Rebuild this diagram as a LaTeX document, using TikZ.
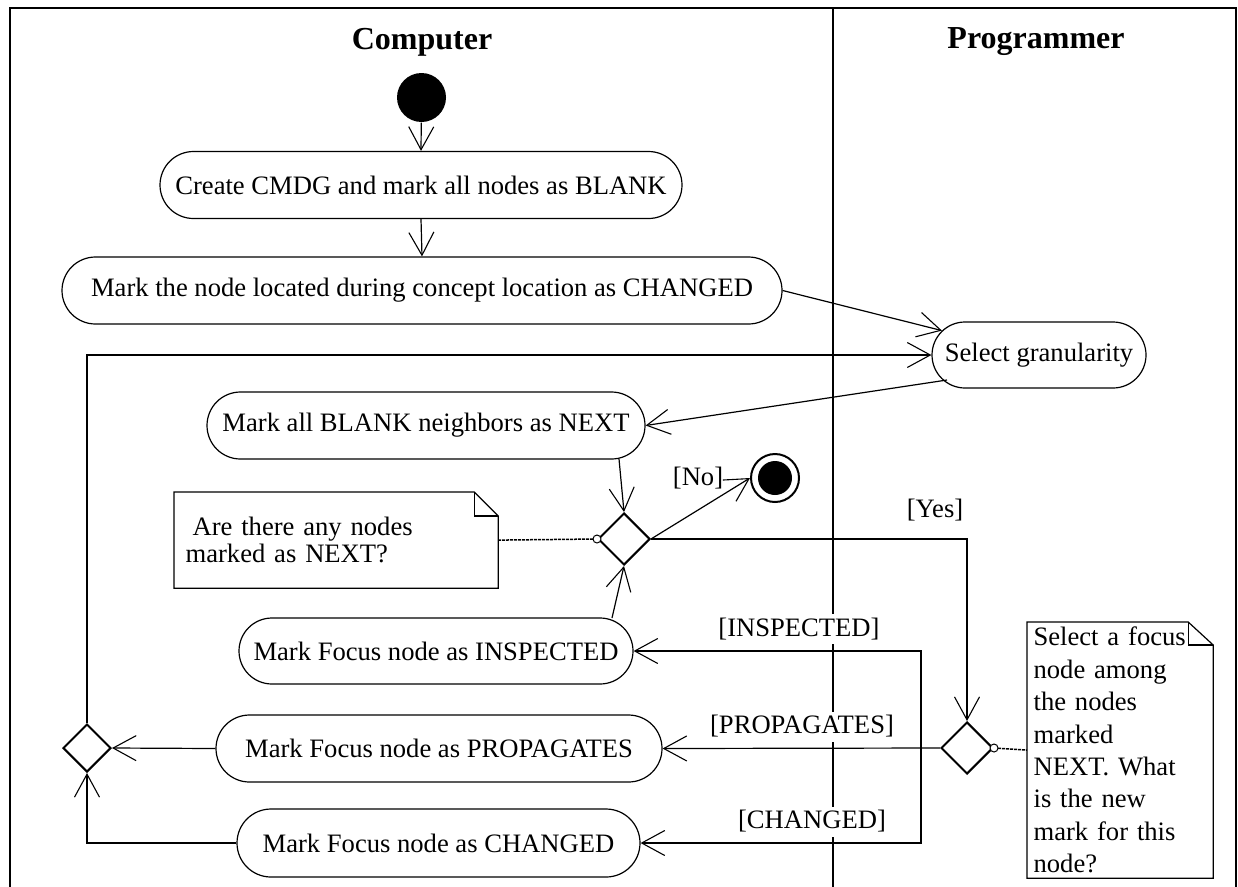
\documentclass[tikz,border=0pt]{standalone}
\usepackage{fontspec}
\setmainfont{Liberation Serif}
\usetikzlibrary{arrows.meta,shapes.misc,shapes.geometric,calc}
\newcommand{\fsz}{\fontsize{26.6pt}{32pt}\selectfont}
\begin{document}
\begin{tikzpicture}[x=1pt,y=-1pt,line width=1.2pt,
  act/.style={rounded rectangle, draw, line width=1.2pt, minimum height=67pt, inner sep=0pt, font=\fsz},
  dec/.style={diamond, draw, line width=2pt, minimum width=52pt, minimum height=52pt, inner sep=0pt},
  arr/.style={-{Straight Barb[length=23pt,width=25pt,line width=1.1pt]}, line width=1.2pt},
  guard/.style={font=\fsz, inner sep=2pt},
  guardw/.style={font=\fsz, fill=white, inner xsep=2pt, inner ysep=4pt},
  notebody/.style={draw=none, anchor=north west, align=left},
  notelink/.style={line width=1.5pt, dash pattern=on 3pt off 1pt},
  lane/.style={line width=2pt},
  head/.style={font=\fontsize{32pt}{36pt}\selectfont\bfseries}
  ]
\useasboundingbox (0,0) rectangle (1238,886);
% frame and lanes
\draw[lane] (10,892) -- (10,8) -- (1236,8) -- (1236,892);
\draw[lane] (833,8) -- (833,892);
\node[head] (hcomp) at (422,42) {Computer};
\node[head] (hprog) at (1036,42) {Programmer};

% nodes
\node[circle, fill, minimum size=49pt, inner sep=0pt] (start) at (421.5,97.5) {};
\node[act, minimum width=522pt] (create) at (421,185) {Create CMDG and mark all nodes as BLANK};
\node[act, minimum width=720pt] (located) at (422,290.5) {Mark the node located during concept location as CHANGED};
\node[act, minimum width=214pt, minimum height=66pt] (gran) at (1039,355) {Select granularity};
\node[act, minimum width=438pt] (blank) at (426,425.5) {Mark all BLANK neighbors as NEXT};
\node[dec] (dec1) at (624,539) {};
\node[circle, draw, line width=2pt, minimum size=48pt, inner sep=0pt] (final) at (775,478) {};
\fill (final.center) circle (17pt);
\node[act, minimum width=394pt, minimum height=66pt] (insp) at (436,651) {Mark Focus node as INSPECTED};
\node[act, minimum width=446pt] (prop) at (439,748.5) {Mark Focus node as PROPAGATES};
\node[act, minimum width=403pt, minimum height=68pt] (chg) at (438.5,843) {Mark Focus node as CHANGED};
\node[dec] (dec2) at (967,748) {};
\node[dec, minimum width=48pt, minimum height=48pt] (merge) at (87,748) {};

% notes
\node[notebody, minimum width=323pt, minimum height=95pt, text width=301pt, inner xsep=11pt, inner ysep=0pt,
      font=\fontsize{26.6pt}{27pt}\selectfont] (n1) at (174,492)
  {\hspace*{7pt}Are there any nodes\\marked as NEXT?};
\draw (n1.north west) -- ($(n1.north east)+(-24,0)$) -- ($(n1.north east)+(0,24)$) -- (n1.south east) -- (n1.south west) -- cycle;
\draw ($(n1.north east)+(-24,0)$) |- ($(n1.north east)+(0,24)$);

\node[notebody, minimum width=185pt, minimum height=255pt, text width=173pt, inner xsep=6pt, inner ysep=0pt,
      font=\fontsize{26.6pt}{32.4pt}\selectfont] (n2) at (1027,622)
  {Select a focus\\node among\\the nodes\\marked\\NEXT. What\\is the new\\mark for this\\node?};
\draw (n2.north west) -- ($(n2.north east)+(-25,0)$) -- ($(n2.north east)+(0,23)$) -- (n2.south east) -- (n2.south west) -- cycle;
\draw ($(n2.north east)+(-25,0)$) |- ($(n2.north east)+(0,23)$);

% free ends
\coordinate (g1) at (947,380);
\coordinate (b1) at (619,459);
\coordinate (i1) at (612,618);
\coordinate (j) at (921,748);

% connectors
\draw[arr] (start) -- (create.north);
\draw[arr] (create.south) -- (located.north);
\draw[arr] (located.east) -- (gran);
\draw[arr] (g1) -- (blank.east);
\draw[arr] (b1) -- (dec1.north);
\draw[arr] (dec1.east) -- (final.west);
\draw[arr] (dec1.east) -| (dec2.north);
\draw[arr] (dec2.west) -- (prop.east);
\draw[arr] (j) |- (insp.east);
\draw[arr] (j) |- (chg.east);
\draw[arr] (i1) -- (dec1.south);
\draw[arr] (prop.west) -- (merge.east);
\draw[arr] (chg.west) -| (merge.south);
\draw[arr] (merge.north) |- (gran.west);

% note links
\draw[notelink] (n1.east) -- (dec1.west);
\draw[line width=1pt, fill=white] (dec1.west) circle (4pt);
\draw[notelink] (dec2.east) -- (n2.west);
\draw[line width=1pt, fill=white] (dec2.east) circle (4pt);

% guards
\node[guard] (gno) at (698,478) {[No]};
\node[guard] (gyes) at (935,510) {[Yes]};
\node[guardw] (gins) at (799,629) {[INSPECTED]};
\node[guardw] (gprop) at (802,726.5) {[PROPAGATES]};
\node[guardw] (gchg) at (812,821.5) {[CHANGED]};
\end{tikzpicture}
\end{document}
